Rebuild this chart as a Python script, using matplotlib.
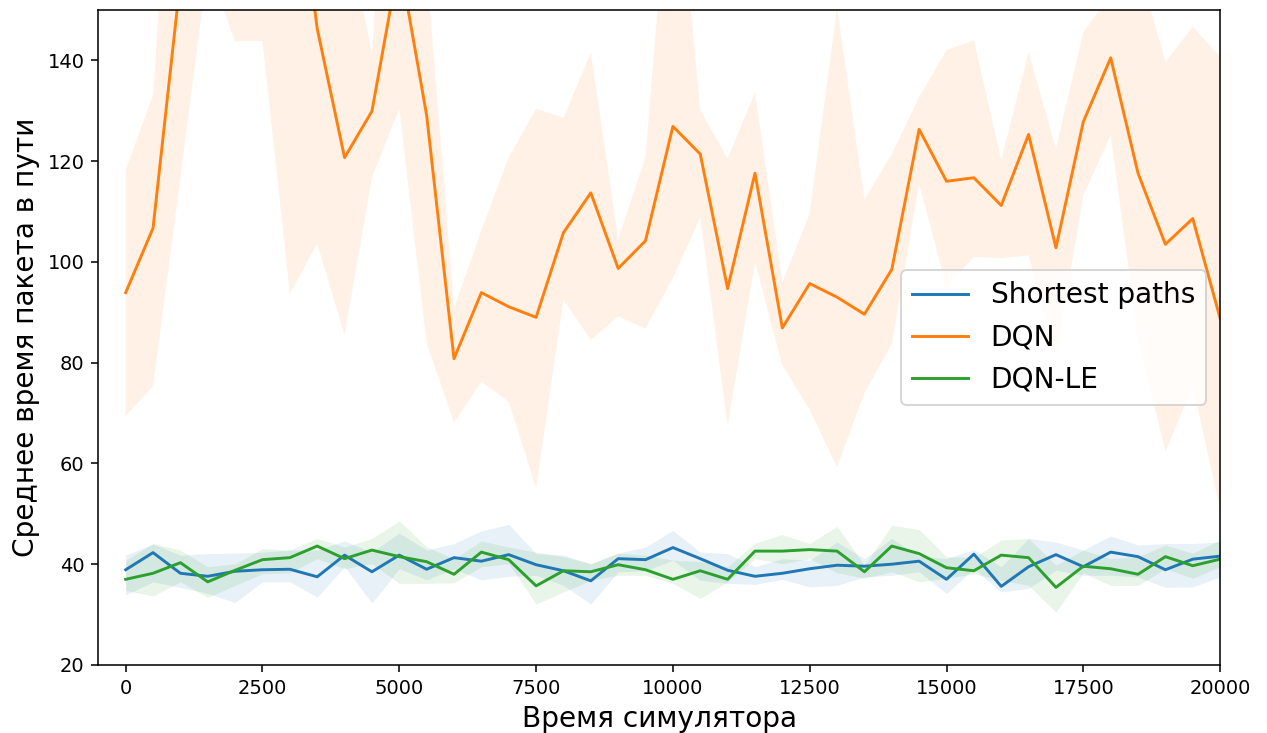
import matplotlib
matplotlib.use("Agg")
import matplotlib.pyplot as plt
import numpy as np

t = np.arange(0, 20001, 500)

# Shortest paths
sp_mean = [38.9, 42.3, 38.2, 37.6, 38.6, 38.9, 39.0, 37.5, 41.8, 38.5,
           41.8, 39.0, 41.3, 40.6, 41.9, 39.9, 38.7, 36.7, 41.1, 40.9,
           43.3, 41.1, 38.8, 37.6, 38.2, 39.1, 39.8, 39.6, 40.0, 40.6,
           37.0, 42.0, 35.6, 39.5, 41.9, 39.5, 42.4, 41.5, 38.9, 41.0, 41.6]
sp_low = [33.9, 36.5, 35.4, 34.2, 32.4, 36.5, 36.5, 33.5, 39.5, 32.3,
          39.1, 36.9, 39.1, 36.9, 37.6, 37.8, 35.8, 32.1, 38.5, 38.7,
          40.8, 36.8, 36.2, 36.0, 37.0, 35.5, 35.8, 37.5, 37.8, 38.5,
          34.2, 39.1, 34.5, 35.2, 38.8, 37.8, 37.8, 37.5, 35.4, 35.5, 37.5]
sp_high = [41.8, 44.0, 41.8, 42.1, 42.2, 42.4, 42.8, 42.8, 44.6, 42.4,
           46.2, 42.8, 44.1, 46.6, 47.9, 42.1, 41.8, 40.1, 42.2, 43.4,
           46.7, 42.4, 42.1, 39.5, 41.1, 40.8, 44.4, 41.1, 45.1, 41.6,
           41.1, 42.9, 39.5, 45.1, 44.4, 42.8, 45.6, 43.8, 44.1, 44.1, 44.4]

# DQN
dqn_mean = [93.9, 106.7, 156.0, 170.0, 165.0, 175.0, 189.0, 146.3, 120.7, 129.9,
            160.0, 129.1, 80.8, 93.9, 91.1, 89.0, 105.8, 113.7, 98.7, 104.2,
            126.9, 121.4, 94.7, 117.6, 86.9, 95.7, 93.0, 89.6, 98.5, 126.3,
            116.0, 116.7, 111.2, 125.3, 102.8, 127.8, 140.5, 117.6, 103.5, 108.6, 88.8]
dqn_low = [69.4, 75.3, 116.7, 158.7, 143.8, 143.8, 93.7, 103.6, 85.5, 116.7,
           130.4, 83.8, 68.1, 76.2, 72.2, 55.1, 92.5, 84.5, 89.2, 86.7,
           96.8, 108.9, 67.4, 100.0, 79.5, 70.6, 59.3, 74.0, 83.8, 115.5,
           95.0, 101.0, 100.7, 101.3, 81.2, 113.2, 125.1, 85.0, 62.3, 75.5, 50.7]
dqn_high = [118.3, 133.1, 215.0, 220.0, 210.0, 215.0, 250.0, 200.0, 169.0, 141.3,
            220.0, 158.5, 90.8, 106.3, 120.8, 130.4, 128.6, 141.5, 104.6, 120.8,
            188.0, 130.2, 120.5, 133.7, 96.0, 109.6, 150.5, 112.4, 121.4, 132.7,
            142.0, 144.0, 120.2, 141.7, 122.5, 145.6, 153.0, 159.0, 139.7, 146.7, 140.7]

# DQN-LE
le_mean = [37.0, 38.2, 40.3, 36.5, 38.8, 40.9, 41.3, 43.6, 41.1, 42.8,
           41.5, 40.5, 38.0, 42.4, 40.9, 35.7, 38.7, 38.5, 39.9, 38.9,
           37.0, 38.7, 37.0, 42.6, 42.6, 42.9, 42.6, 38.5, 43.6, 42.1,
           39.3, 38.7, 41.8, 41.3, 35.4, 39.6, 39.1, 38.0, 41.5, 39.7, 41.0]
le_low = [34.8, 33.7, 36.5, 33.4, 35.8, 38.1, 38.3, 41.1, 39.1, 40.1,
          36.2, 36.2, 36.3, 39.5, 40.1, 32.1, 34.5, 36.8, 37.8, 37.8,
          36.2, 33.2, 36.5, 41.1, 40.1, 41.1, 38.3, 37.2, 38.5, 36.5,
          37.2, 38.1, 36.8, 35.8, 30.5, 38.3, 35.8, 35.8, 39.1, 37.2, 39.5]
le_high = [40.8, 44.1, 42.8, 39.5, 40.1, 43.1, 42.8, 45.1, 43.4, 45.1,
           48.6, 43.4, 41.1, 44.6, 43.4, 42.4, 41.5, 40.1, 42.2, 41.8,
           40.8, 40.5, 39.5, 44.2, 45.9, 44.1, 47.5, 39.8, 47.7, 46.9,
           41.5, 41.3, 44.8, 45.1, 39.8, 42.8, 41.1, 41.5, 43.8, 42.2, 44.8]

series = [
    ("Shortest paths", sp_mean, sp_low, sp_high, "tab:blue"),
    ("DQN", dqn_mean, dqn_low, dqn_high, "tab:orange"),
    ("DQN-LE", le_mean, le_low, le_high, "tab:green"),
]

fig = plt.figure(figsize=(1267 / 140, 733 / 140), dpi=140)
ax = fig.add_axes([0.0776, 0.0928, 0.963 - 0.0776, 0.9864 - 0.0928])

for name, mean, low, high, color in series:
    ax.plot(t, mean, color=color, label=name)
    ax.fill_between(t, low, high, color=color, alpha=0.1, linewidth=0)

ax.set_xlim(-500, 20000)
ax.set_ylim(20, 150)
ax.set_xlabel("Время симулятора", fontsize="x-large")
ax.set_ylabel("Среднее время пакета в пути", fontsize="x-large")
ax.legend(loc="center right", fontsize="x-large")

fig.savefig("out.png", dpi=140)
